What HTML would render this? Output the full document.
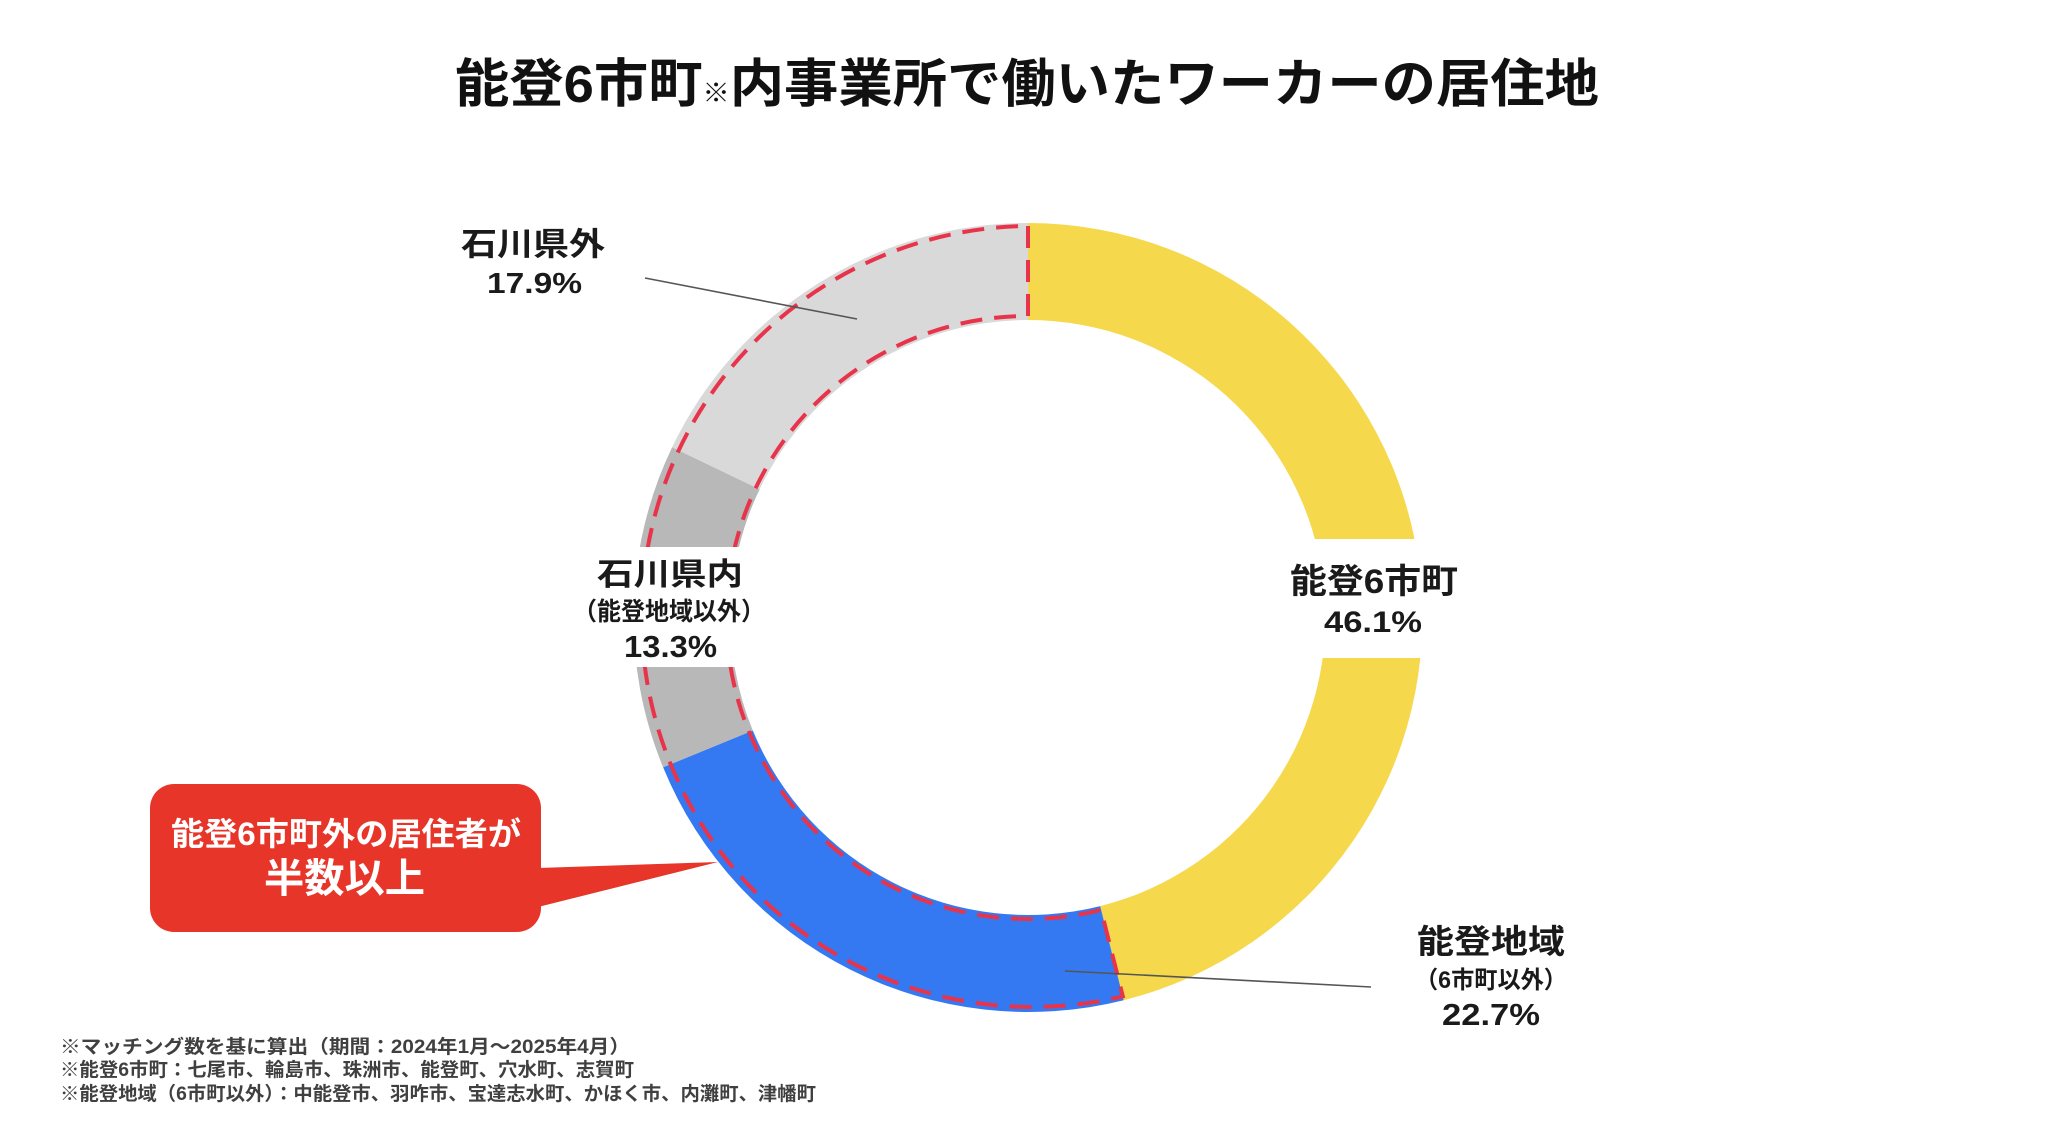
<!DOCTYPE html>
<html>
<head>
<meta charset="utf-8">
<style>
html,body{margin:0;padding:0;background:#ffffff;}
svg{display:block;}
text{font-family:"Liberation Sans","Noto Sans CJK JP",sans-serif;font-weight:bold;}
</style>
</head>
<body>
<svg width="2048" height="1136" viewBox="0 0 2048 1136" xmlns="http://www.w3.org/2000/svg">
<rect x="0" y="0" width="2048" height="1136" fill="#ffffff"/>

<!-- Title -->
<text x="1027" y="102" font-size="52" text-anchor="middle" fill="#111111" textLength="1144" lengthAdjust="spacingAndGlyphs">能登6市町<tspan font-size="26">※</tspan>内事業所で働いたワーカーの居住地</text>

<!-- Donut segments -->
<path d="M 1028 223 A 394.5 394.5 0 0 1 1123.7 1000.2 L 1100.2 906.1 A 297.5 297.5 0 0 0 1028 320 Z" fill="#F6D84C"/>
<path d="M 1123.7 1000.2 A 394.5 394.5 0 0 1 663.1 767.3 L 752.8 730.5 A 297.5 297.5 0 0 0 1100.2 906.1 Z" fill="#3478F2"/>
<path d="M 663.1 767.3 A 394.5 394.5 0 0 1 672.1 447.3 L 759.6 489.2 A 297.5 297.5 0 0 0 752.8 730.5 Z" fill="#B8B8B8"/>
<path d="M 672.1 447.3 A 394.5 394.5 0 0 1 1028 223 L 1028 320 A 297.5 297.5 0 0 0 759.6 489.2 Z" fill="#D9D9D9"/>

<!-- Dashed red border around non-yellow region -->
<path d="M 1028 226 L 1028 316 A 301.5 301.5 0 1 0 1101.1 910.0 L 1122.8 996.3 A 390.5 390.5 0 1 1 1028 226 Z" fill="none" stroke="#E8344A" stroke-width="4" stroke-dasharray="22 12"/>

<!-- Label background gaps -->
<rect x="1280" y="539" width="190" height="119" fill="#ffffff"/>
<rect x="565" y="547" width="210" height="120" fill="#ffffff"/>

<!-- Leader lines -->
<line x1="645" y1="278" x2="857" y2="319" stroke="#555555" stroke-width="1.6"/>
<line x1="1065" y1="971" x2="1371" y2="987" stroke="#555555" stroke-width="1.6"/>

<!-- Labels -->
<text x="533" y="255" font-size="32" text-anchor="middle" fill="#1a1a1a" textLength="144" lengthAdjust="spacingAndGlyphs">石川県外</text>
<text x="534.5" y="293" font-size="29" text-anchor="middle" fill="#1a1a1a" textLength="95" lengthAdjust="spacingAndGlyphs">17.9%</text>

<text x="1374" y="593" font-size="34" text-anchor="middle" fill="#1a1a1a" textLength="168" lengthAdjust="spacingAndGlyphs">能登6市町</text>
<text x="1373" y="632" font-size="30" text-anchor="middle" fill="#1a1a1a" textLength="98" lengthAdjust="spacingAndGlyphs">46.1%</text>

<text x="670" y="585" font-size="31" text-anchor="middle" fill="#1a1a1a" textLength="146" lengthAdjust="spacingAndGlyphs">石川県内</text>
<text x="669" y="620" font-size="25" text-anchor="middle" fill="#1a1a1a" textLength="192" lengthAdjust="spacingAndGlyphs">（能登地域以外）</text>
<text x="670.5" y="657" font-size="31" text-anchor="middle" fill="#1a1a1a" textLength="93" lengthAdjust="spacingAndGlyphs">13.3%</text>

<text x="1491" y="953" font-size="33" text-anchor="middle" fill="#1a1a1a" textLength="148" lengthAdjust="spacingAndGlyphs">能登地域</text>
<text x="1491" y="988" font-size="24" text-anchor="middle" fill="#1a1a1a" textLength="152" lengthAdjust="spacingAndGlyphs">（6市町以外）</text>
<text x="1491" y="1025" font-size="31" text-anchor="middle" fill="#1a1a1a" textLength="98" lengthAdjust="spacingAndGlyphs">22.7%</text>

<!-- Callout -->
<rect x="150" y="784" width="391" height="148" rx="24" ry="24" fill="#E8352A"/>
<polygon points="538,868 718,862 538,907" fill="#E8352A"/>
<text x="346" y="845" font-size="32" text-anchor="middle" fill="#ffffff" textLength="350" lengthAdjust="spacingAndGlyphs">能登6市町外の居住者が</text>
<text x="344.5" y="892" font-size="40" text-anchor="middle" fill="#ffffff" textLength="161" lengthAdjust="spacingAndGlyphs">半数以上</text>

<!-- Footnotes -->
<text x="60" y="1053" font-size="19" fill="#404040" textLength="570" lengthAdjust="spacingAndGlyphs">※マッチング数を基に算出（期間：2024年1月～2025年4月）</text>
<text x="60" y="1076" font-size="19" fill="#404040" textLength="574" lengthAdjust="spacingAndGlyphs">※能登6市町：七尾市、輪島市、珠洲市、能登町、穴水町、志賀町</text>
<text x="60" y="1100" font-size="19" fill="#404040" textLength="756" lengthAdjust="spacingAndGlyphs">※能登地域（6市町以外）：中能登市、羽咋市、宝達志水町、かほく市、内灘町、津幡町</text>
</svg>
</body>
</html>
